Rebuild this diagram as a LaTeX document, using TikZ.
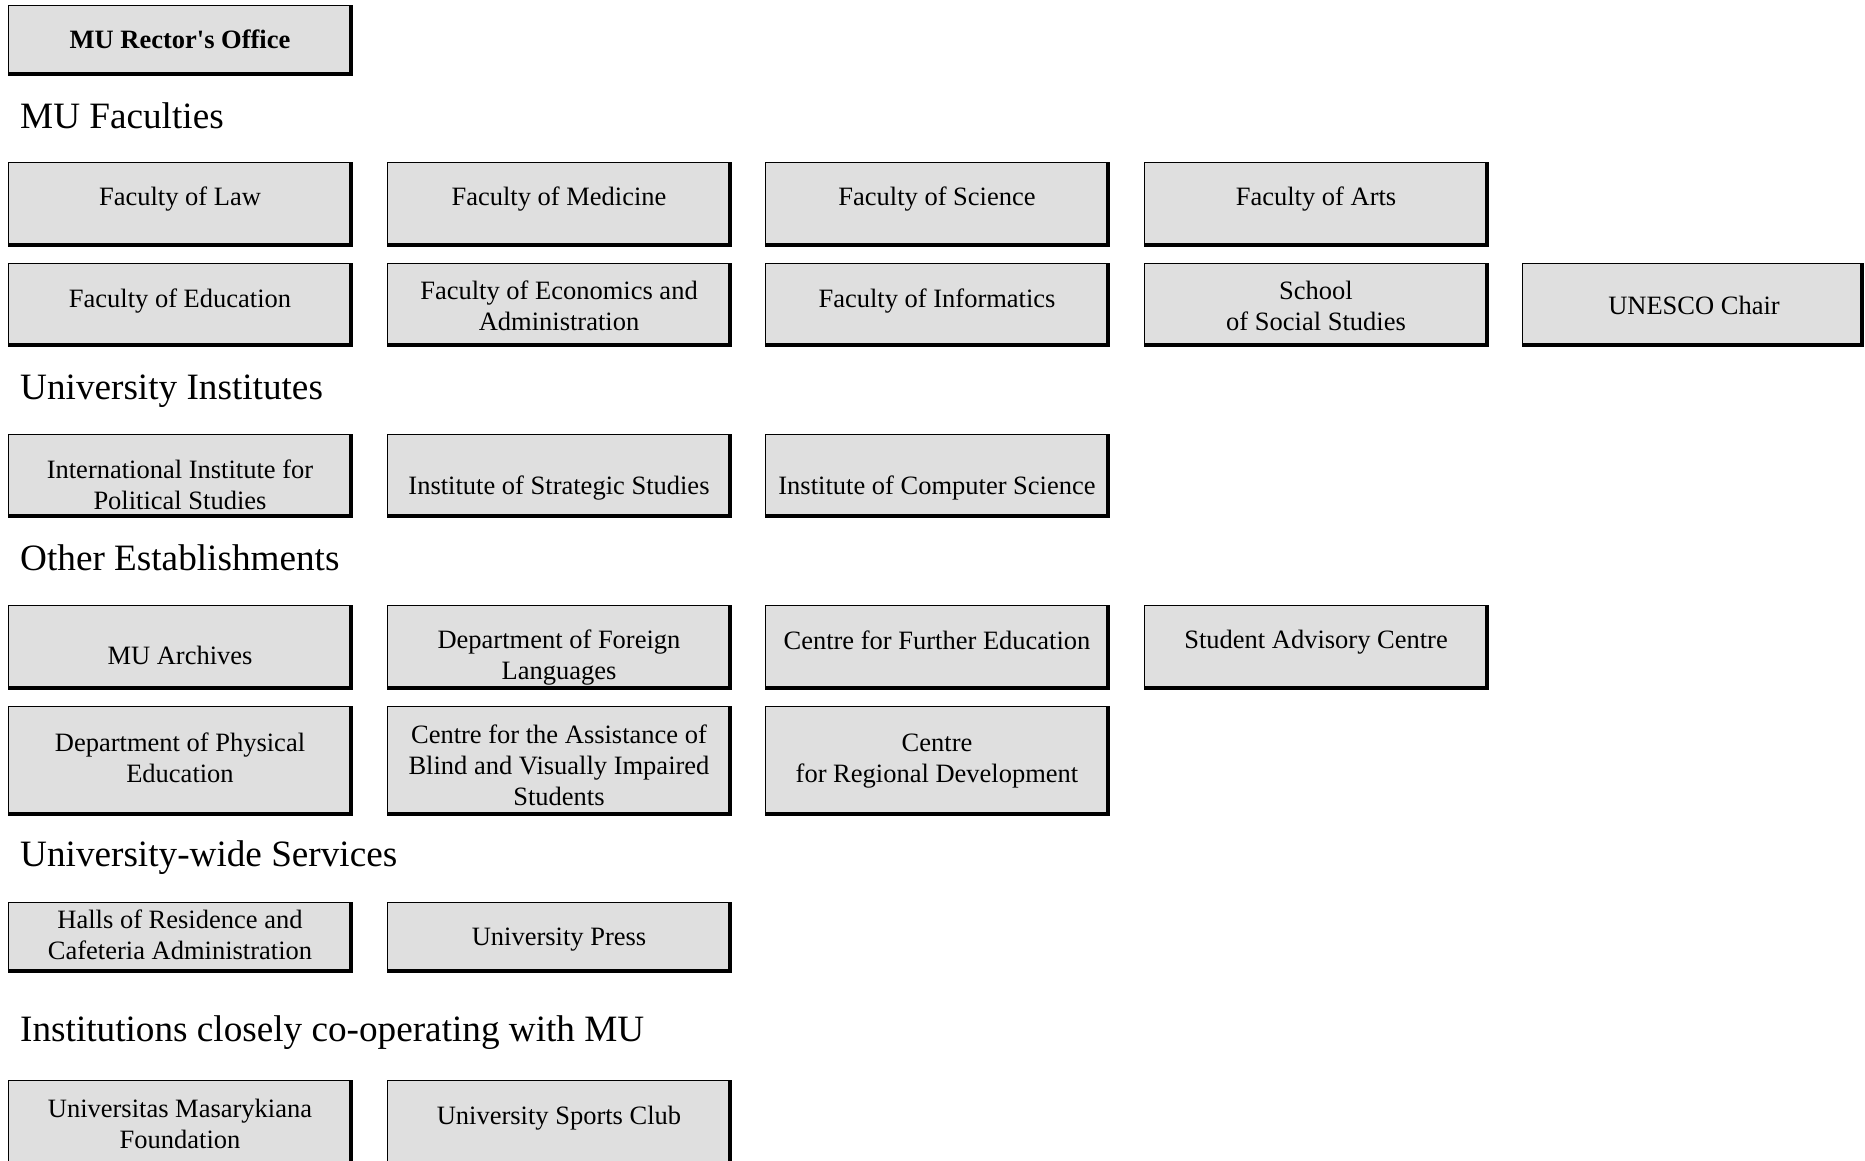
\documentclass[tikz,border=0pt]{standalone}
\usepackage{fontspec}
\setmainfont{Liberation Serif}
\definecolor{boxgray}{RGB}{223,223,223}
\begin{document}
\begin{tikzpicture}[x=1pt,y=-1pt,
  orgbox/.style={rectangle, anchor=north west, fill=boxgray, draw=black, line width=1.3pt, minimum width=342pt, minimum height=#1, inner sep=0pt},
  orgbox/.default=82pt,
  boxedge/.style={line width=4pt},
  boxtext/.style={font=\fontsize{26.5}{31}\selectfont, align=center, inner sep=0pt},
  heading/.style={font=\fontsize{37.2}{43}\selectfont, anchor=west, inner sep=0pt}]
\useasboundingbox (0,0) rectangle (1865,1160);
\clip (0,0) rectangle (1865,1160);

% Rector
\node[orgbox=68pt] (rector) at (8,5) {};
\node[boxtext, font=\fontsize{26.5}{31}\selectfont\bfseries] (rector-t) at (180,39.5) {MU Rector\textquotesingle s Office};

% Headings
\node[heading] (h-fac) at (20,115.5) {MU Faculties};
\node[heading] (h-inst) at (20,391) {University Institutes};
\node[heading] (h-other) at (20,557.5) {Other Establishments};
\node[heading] (h-serv) at (20,857.5) {University-wide Services};
\node[heading] (h-coop) at (20,1033) {Institutions closely co-operating with MU};

% Row 1
\node[orgbox=82pt] (law) at (8,162) {};
\node[orgbox=82pt] (med) at (387,162) {};
\node[orgbox=82pt] (sci) at (765,162) {};
\node[orgbox=82pt] (arts) at (1144,162) {};
\node[boxtext] (law-t) at (180,199) {Faculty of Law};
\node[boxtext] (med-t) at (559,199) {Faculty of Medicine};
\node[boxtext] (sci-t) at (937,199) {Faculty of Science};
\node[boxtext] (arts-t) at (1316,199) {Faculty of Arts};

% Row 2
\node[orgbox=81pt] (edu) at (8,263) {};
\node[orgbox=81pt] (econ) at (387,263) {};
\node[orgbox=81pt] (inf) at (765,263) {};
\node[orgbox=81pt] (fss) at (1144,263) {};
\node[orgbox=81pt, minimum width=339pt] (unesco) at (1522,263) {};
\node[boxtext] (edu-t) at (180,301) {Faculty of Education};
\node[boxtext] (econ-t) at (559,305.6) {Faculty of Economics and\\Administration};
\node[boxtext] (inf-t) at (937,301) {Faculty of Informatics};
\node[boxtext] (fss-t) at (1316,305.6) {School\\of Social Studies};
\node[boxtext] (unesco-t) at (1694,305.6) {UNESCO Chair};

% Row 3
\node[orgbox=81pt] (iips) at (8,434) {};
\node[orgbox=81pt] (iss) at (387,434) {};
\node[orgbox=81pt] (ics) at (765,434) {};
\node[boxtext] (iips-t) at (180,484.6) {International Institute for\\Political Studies};
\node[boxtext] (iss-t) at (559,488) {Institute of Strategic Studies};
\node[boxtext] (ics-t) at (937,488) {Institute of Computer Science};

% Row 4
\node[orgbox=82pt] (arch) at (8,605) {};
\node[orgbox=82pt] (dfl) at (387,605) {};
\node[orgbox=82pt] (cfe) at (765,605) {};
\node[orgbox=82pt] (sac) at (1144,605) {};
\node[boxtext] (arch-t) at (180,655.6) {MU Archives};
\node[boxtext] (dfl-t) at (559,658) {Department of Foreign\\Languages};
\node[boxtext] (cfe-t) at (937,640.1) {Centre for Further Education};
\node[boxtext] (sac-t) at (1316,642.5) {Student Advisory Centre};

% Row 5
\node[orgbox=107pt] (dpe) at (8,706) {};
\node[orgbox=107pt] (blind) at (387,706) {};
\node[orgbox=107pt] (crd) at (765,706) {};
\node[boxtext] (dpe-t) at (180,757.6) {Department of Physical\\Education};
\node[boxtext] (blind-t) at (559,765.1) {Centre for the Assistance of\\Blind and Visually Impaired\\Students};
\node[boxtext] (crd-t) at (937,761.2) {Centre\\for Regional Development};

% Row 6
\node[orgbox=68pt] (halls) at (8,902) {};
\node[orgbox=68pt] (press) at (387,902) {};
\node[boxtext] (halls-t) at (180,935.1) {Halls of Residence and\\Cafeteria Administration};
\node[boxtext] (press-t) at (559,939.8) {University Press};

% Row 7
\node[orgbox=110pt] (umf) at (8,1080) {};
\node[orgbox=110pt] (usc) at (387,1080) {};
\node[boxtext] (umf-t) at (180,1124.2) {Universitas Masarykiana\\Foundation};
\node[boxtext] (usc-t) at (559,1118.3) {University Sports Club};

% Heavy right and bottom edges
\foreach \n in {rector,law,med,sci,arts,edu,econ,inf,fss,unesco,iips,iss,ics,arch,dfl,cfe,sac,dpe,blind,crd,halls,press,umf,usc}
  \draw[boxedge] (\n.north east) -- (\n.south east) -- (\n.south west);
\end{tikzpicture}
\end{document}
